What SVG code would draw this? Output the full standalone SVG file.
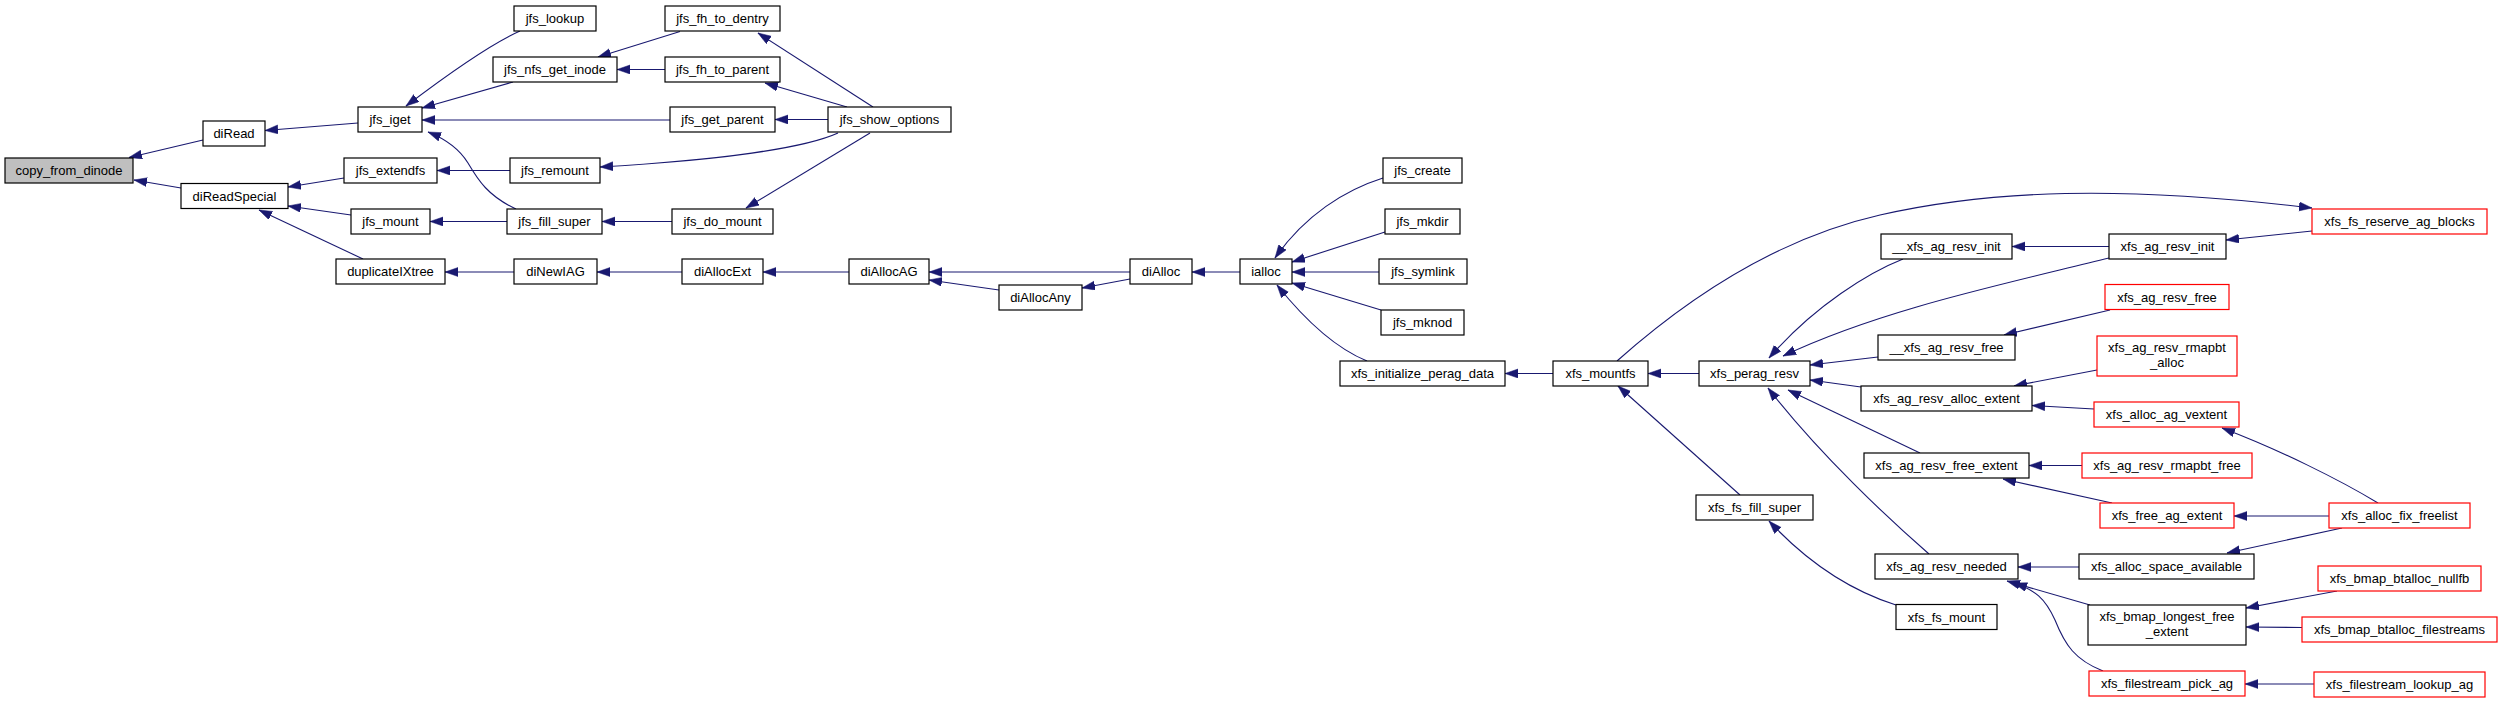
<svg xmlns="http://www.w3.org/2000/svg" width="2503" height="703" viewBox="0 0 2503 703">
<style>
.n rect{fill:#fff;stroke:#000;stroke-width:1.2}
.r rect{stroke:#ff0000}
.root rect{fill:#bfbfbf}
text{font-family:"Liberation Sans",Arial,Helvetica,sans-serif;font-size:13px;text-anchor:middle;fill:#000}
#edges path{fill:none;stroke:#191970;stroke-width:1.1;marker-end:url(#ah)}
</style>
<defs>
<marker id="ah" markerUnits="userSpaceOnUse" markerWidth="14" markerHeight="10" refX="13" refY="4.5" orient="auto">
<path d="M0,0 L13,4.5 L0,9 Z" fill="#191970" stroke="#191970" stroke-width="0.5"/>
</marker>
</defs>
<rect width="2503" height="703" fill="#fff"/>
<g id="edges">
<path d="M203,140 L129,157.5"/>
<path d="M181,188 L134,180"/>
<path d="M358,123 L265,130.5"/>
<path d="M344,178 L288,187"/>
<path d="M351,215 L288,206"/>
<path d="M363,259 L259,210"/>
<path d="M520,31 C495,42 460,65 406,106"/>
<path d="M513,82 L422,108"/>
<path d="M670,120 L422,120"/>
<path d="M516,209 C488,196 478,180 468,163 C460,150 448,140 428,132"/>
<path d="M510,170.5 L437,170.5"/>
<path d="M507,221.5 L430,221.5"/>
<path d="M514,272 L445,272"/>
<path d="M680,31.5 L598,57"/>
<path d="M665,69.5 L617,69.5"/>
<path d="M873,107 L758,33"/>
<path d="M847,107 L765,83"/>
<path d="M828,119.5 L775,119.5"/>
<path d="M838,133 C805,148 720,160 600,167"/>
<path d="M672,221.5 L602,221.5"/>
<path d="M870,133 L746,208"/>
<path d="M682,272 L597,272"/>
<path d="M849,272 L763,272"/>
<path d="M1130,272 L929,272"/>
<path d="M999,290 L929,280"/>
<path d="M1130,279 L1082,288"/>
<path d="M1240,272 L1192,272"/>
<path d="M1383,178 C1345,190 1305,215 1275,258"/>
<path d="M1385,232 L1292,262"/>
<path d="M1379,272 L1292,272"/>
<path d="M1381,310 L1292,283"/>
<path d="M1367,361 C1335,348 1305,320 1277,285"/>
<path d="M1553,373.5 L1505,373.5"/>
<path d="M1699,373.5 L1648,373.5"/>
<path d="M1740,495 L1618,386"/>
<path d="M1617,361 C1680,305 1770,240 1880,215 C1990,190 2120,185 2312,208"/>
<path d="M1903,259 C1870,272 1815,305 1769,358"/>
<path d="M2109,258 C2000,285 1880,310 1783,356"/>
<path d="M1878,357 L1810,365"/>
<path d="M1861,387 L1810,380"/>
<path d="M1920,453 L1788,390"/>
<path d="M1929,554 C1890,520 1820,455 1768,388"/>
<path d="M2109,246.5 L2012,246.5"/>
<path d="M2312,231 L2226,240"/>
<path d="M2110,310 L2004,335"/>
<path d="M2097,370 L2014,386"/>
<path d="M2094,409 L2032,405.5"/>
<path d="M2378,503 C2340,480 2280,450 2222,428"/>
<path d="M2082,465.5 L2029,465.5"/>
<path d="M2112,503 L2003,479"/>
<path d="M2329,516 L2234,516"/>
<path d="M2079,567 L2018,567"/>
<path d="M2342,528 L2227,553"/>
<path d="M2090,605 L2007,581"/>
<path d="M2103,671 C2075,660 2065,645 2055,620 C2045,598 2035,590 2014,583"/>
<path d="M1896,605 C1855,592 1810,565 1769,521"/>
<path d="M2337,591 L2246,608"/>
<path d="M2302,627.5 L2246,627"/>
<path d="M2314,684 L2245,684"/>
</g>
<g id="copy_from_dinode" class="n root"><rect x="5" y="158" width="128" height="25"/><text x="69" y="175">copy_from_dinode</text></g>
<g id="diRead" class="n"><rect x="203" y="121" width="62" height="25"/><text x="234" y="138">diRead</text></g>
<g id="diReadSpecial" class="n"><rect x="181" y="183.5" width="107" height="25"/><text x="234.5" y="200.5">diReadSpecial</text></g>
<g id="jfs_iget" class="n"><rect x="358" y="107" width="64" height="25"/><text x="390" y="124">jfs_iget</text></g>
<g id="jfs_extendfs" class="n"><rect x="344" y="158" width="93" height="25"/><text x="390.5" y="175">jfs_extendfs</text></g>
<g id="jfs_mount" class="n"><rect x="351" y="209" width="79" height="25"/><text x="390.5" y="226">jfs_mount</text></g>
<g id="duplicateIXtree" class="n"><rect x="336" y="259" width="109" height="25"/><text x="390.5" y="276">duplicateIXtree</text></g>
<g id="jfs_lookup" class="n"><rect x="514" y="6" width="82" height="25"/><text x="555" y="23">jfs_lookup</text></g>
<g id="jfs_nfs_get_inode" class="n"><rect x="493" y="57" width="124" height="25"/><text x="555" y="74">jfs_nfs_get_inode</text></g>
<g id="jfs_remount" class="n"><rect x="510" y="158" width="90" height="25"/><text x="555" y="175">jfs_remount</text></g>
<g id="jfs_fill_super" class="n"><rect x="507" y="209" width="95" height="25"/><text x="554.5" y="226">jfs_fill_super</text></g>
<g id="diNewIAG" class="n"><rect x="514" y="259" width="83" height="25"/><text x="555.5" y="276">diNewIAG</text></g>
<g id="jfs_fh_to_dentry" class="n"><rect x="665" y="6" width="115" height="25"/><text x="722.5" y="23">jfs_fh_to_dentry</text></g>
<g id="jfs_fh_to_parent" class="n"><rect x="665" y="57" width="115" height="25"/><text x="722.5" y="74">jfs_fh_to_parent</text></g>
<g id="jfs_get_parent" class="n"><rect x="670" y="107" width="105" height="25"/><text x="722.5" y="124">jfs_get_parent</text></g>
<g id="jfs_do_mount" class="n"><rect x="672" y="209" width="101" height="25"/><text x="722.5" y="226">jfs_do_mount</text></g>
<g id="diAllocExt" class="n"><rect x="682" y="259" width="81" height="25"/><text x="722.5" y="276">diAllocExt</text></g>
<g id="jfs_show_options" class="n"><rect x="828" y="107" width="123" height="25"/><text x="889.5" y="124">jfs_show_options</text></g>
<g id="diAllocAG" class="n"><rect x="849" y="259" width="80" height="25"/><text x="889" y="276">diAllocAG</text></g>
<g id="diAllocAny" class="n"><rect x="999" y="285" width="83" height="25"/><text x="1040.5" y="302">diAllocAny</text></g>
<g id="diAlloc" class="n"><rect x="1130" y="259" width="62" height="25"/><text x="1161" y="276">diAlloc</text></g>
<g id="ialloc" class="n"><rect x="1240" y="259" width="52" height="25"/><text x="1266" y="276">ialloc</text></g>
<g id="jfs_create" class="n"><rect x="1383" y="158" width="79" height="25"/><text x="1422.5" y="175">jfs_create</text></g>
<g id="jfs_mkdir" class="n"><rect x="1385" y="209" width="75" height="25"/><text x="1422.5" y="226">jfs_mkdir</text></g>
<g id="jfs_symlink" class="n"><rect x="1379" y="259" width="88" height="25"/><text x="1423" y="276">jfs_symlink</text></g>
<g id="jfs_mknod" class="n"><rect x="1381" y="310" width="83" height="25"/><text x="1422.5" y="327">jfs_mknod</text></g>
<g id="xfs_initialize_perag_data" class="n"><rect x="1340" y="361" width="165" height="25"/><text x="1422.5" y="378">xfs_initialize_perag_data</text></g>
<g id="xfs_mountfs" class="n"><rect x="1553" y="361" width="95" height="25"/><text x="1600.5" y="378">xfs_mountfs</text></g>
<g id="xfs_perag_resv" class="n"><rect x="1699" y="361" width="111" height="25"/><text x="1754.5" y="378">xfs_perag_resv</text></g>
<g id="xfs_fs_fill_super" class="n"><rect x="1696" y="495" width="117" height="25"/><text x="1754.5" y="512">xfs_fs_fill_super</text></g>
<g id="xfs_fs_mount" class="n"><rect x="1896" y="604.5" width="101" height="25"/><text x="1946.5" y="621.5">xfs_fs_mount</text></g>
<g id="__xfs_ag_resv_init" class="n"><rect x="1881" y="234" width="131" height="25"/><text x="1946.5" y="251">__xfs_ag_resv_init</text></g>
<g id="__xfs_ag_resv_free" class="n"><rect x="1878" y="335" width="137" height="25"/><text x="1946.5" y="352">__xfs_ag_resv_free</text></g>
<g id="xfs_ag_resv_alloc_extent" class="n"><rect x="1861" y="386" width="171" height="25"/><text x="1946.5" y="403">xfs_ag_resv_alloc_extent</text></g>
<g id="xfs_ag_resv_free_extent" class="n"><rect x="1864" y="453" width="165" height="25"/><text x="1946.5" y="470">xfs_ag_resv_free_extent</text></g>
<g id="xfs_ag_resv_needed" class="n"><rect x="1875" y="554" width="143" height="25"/><text x="1946.5" y="571">xfs_ag_resv_needed</text></g>
<g id="xfs_fs_reserve_ag_blocks" class="n r"><rect x="2312" y="209" width="175" height="25"/><text x="2399.5" y="226">xfs_fs_reserve_ag_blocks</text></g>
<g id="xfs_ag_resv_init" class="n"><rect x="2109" y="234" width="117" height="25"/><text x="2167.5" y="251">xfs_ag_resv_init</text></g>
<g id="xfs_ag_resv_free" class="n r"><rect x="2105" y="284.5" width="124" height="25"/><text x="2167" y="301.5">xfs_ag_resv_free</text></g>
<g id="xfs_ag_resv_rmapbt_alloc" class="n r"><rect x="2097" y="336" width="140" height="40"/><text x="2167" y="352">xfs_ag_resv_rmapbt</text><text x="2167" y="367">_alloc</text></g>
<g id="xfs_alloc_ag_vextent" class="n r"><rect x="2094" y="402" width="145" height="25"/><text x="2166.5" y="419">xfs_alloc_ag_vextent</text></g>
<g id="xfs_ag_resv_rmapbt_free" class="n r"><rect x="2082" y="453" width="170" height="25"/><text x="2167" y="470">xfs_ag_resv_rmapbt_free</text></g>
<g id="xfs_free_ag_extent" class="n r"><rect x="2100" y="503" width="134" height="25"/><text x="2167" y="520">xfs_free_ag_extent</text></g>
<g id="xfs_alloc_space_available" class="n"><rect x="2079" y="554" width="175" height="25"/><text x="2166.5" y="571">xfs_alloc_space_available</text></g>
<g id="xfs_bmap_longest_free_extent" class="n"><rect x="2088" y="605" width="158" height="40"/><text x="2167" y="621">xfs_bmap_longest_free</text><text x="2167" y="636">_extent</text></g>
<g id="xfs_filestream_pick_ag" class="n r"><rect x="2089" y="671" width="156" height="25"/><text x="2167" y="688">xfs_filestream_pick_ag</text></g>
<g id="xfs_alloc_fix_freelist" class="n r"><rect x="2329" y="503" width="141" height="25"/><text x="2399.5" y="520">xfs_alloc_fix_freelist</text></g>
<g id="xfs_bmap_btalloc_nullfb" class="n r"><rect x="2318" y="566" width="163" height="25"/><text x="2399.5" y="583">xfs_bmap_btalloc_nullfb</text></g>
<g id="xfs_bmap_btalloc_filestreams" class="n r"><rect x="2302" y="617" width="195" height="25"/><text x="2399.5" y="634">xfs_bmap_btalloc_filestreams</text></g>
<g id="xfs_filestream_lookup_ag" class="n r"><rect x="2314" y="672" width="171" height="25"/><text x="2399.5" y="689">xfs_filestream_lookup_ag</text></g>
</svg>
